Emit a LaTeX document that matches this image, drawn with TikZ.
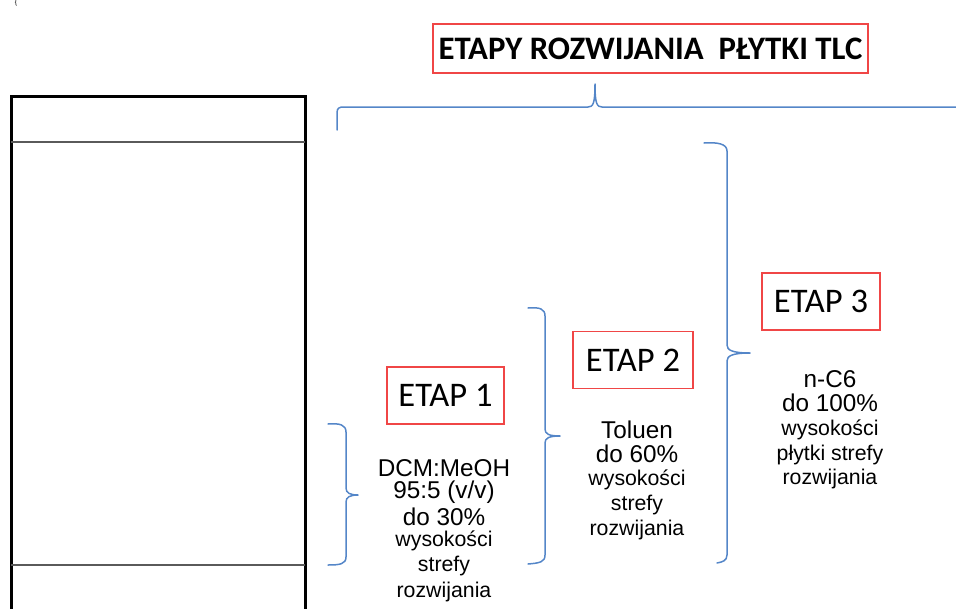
\documentclass[tikz,border=0pt]{standalone}
\usepackage{fontspec}
\setmainfont{Liberation Sans}
\newfontfamily\calibri{Carlito}
\definecolor{bracecol}{RGB}{84,134,200}
\definecolor{boxred}{RGB}{240,70,70}
\definecolor{thingray}{RGB}{90,90,90}
\tikzset{
  bracestyle/.style={draw=bracecol,line width=1.5pt,line cap=round,line join=round},
  etapbox/.style={draw=boxred,line width=1.4pt,minimum height=57pt,inner sep=0pt,font=\calibri\fontsize{34.5}{36}\selectfont},
  bigtxt/.style={font=\fontsize{24.3}{26}\selectfont,inner sep=0pt},
  smalltxt/.style={font=\fontsize{21.3}{25}\selectfont,inner sep=0pt},
}
\begin{document}
\begin{tikzpicture}[x=1pt,y=-1pt]
\useasboundingbox (0,0) rectangle (956,608);
\clip (0,0) rectangle (956,608);
% small mark top-left
\node[inner sep=0pt,font=\fontsize{7}{7}\selectfont,anchor=center] (mark) at (16,2.5) {\{};
% plate
\draw[line width=3pt] (11,650) -- (11,96) -- (305,96) -- (305,650);
\draw[thingray,line width=1.3pt] (11,142) -- (305,142);
\draw[thingray,line width=1.6pt] (11,565) -- (305,565);
% title
\node[draw=boxred,line width=1.4pt,minimum width=435pt,minimum height=49pt,inner sep=0pt,font=\calibri\bfseries\fontsize{32.8}{34}\selectfont] (title) at (650.5,48.5) {ETAPY ROZWIJANIA\ \ PŁYTKI TLC};
% big top brace
\coordinate (tbL) at (337,130);
\coordinate (tbT) at (595,84);
\draw[bracestyle] (tbL) -- (337,113) .. controls (337,108) and (339,107) .. (344,107) -- (588,107) .. controls (593,107) and (595,104) .. (tbT) .. controls (595,104) and (597,107) .. (602,107) -- (980,107);
% ETAP boxes
\node[etapbox,minimum width=117pt] (e1) at (445.5,395.5) {ETAP 1};
\node[etapbox,minimum width=120pt] (e2) at (633,360) {ETAP 2};
\node[etapbox,minimum width=118pt] (e3) at (821,301.5) {ETAP 3};
% braces
\coordinate (b1) at (358,495);
\draw[bracestyle] (328,424) .. controls (340,423) and (346,425) .. (346,432) -- (346,488) .. controls (346,493) and (350,495) .. (b1) .. controls (350,495) and (346,497) .. (346,502) -- (346,557) .. controls (346,564) and (340,565) .. (328,565);
\coordinate (b2) at (560,436);
\draw[bracestyle] (528,308) .. controls (540,307) and (545,309) .. (545,316) -- (545,429) .. controls (545,434) and (549,436) .. (b2) .. controls (549,436) and (545,438) .. (545,443) -- (545,555) .. controls (545,562) and (540,563) .. (528,564);
\coordinate (b3) at (750,353);
\draw[bracestyle] (704,143) .. controls (718,142) and (727,144) .. (727,151) -- (727,345) .. controls (727,350) and (732,353) .. (b3) .. controls (732,353) and (727,356) .. (727,361) -- (727,555) .. controls (727,561) and (722,562) .. (717,563);
% texts
\node[bigtxt] (t1a) at (444,468) {DCM:MeOH};
\node[bigtxt] (t1b) at (444,492.5) {95:5 (v/v)};
\node[bigtxt] (t1c) at (444,517) {do 30\%};
\node[smalltxt] (t1d) at (444,541) {wysokości};
\node[smalltxt] (t1e) at (444,566) {strefy};
\node[smalltxt] (t1f) at (444,592) {rozwijania};
\node[bigtxt] (t2a) at (637,430) {Toluen};
\node[bigtxt] (t2b) at (637,454) {do 60\%};
\node[smalltxt] (t2c) at (637,480) {wysokości};
\node[smalltxt] (t2d) at (637,505) {strefy};
\node[smalltxt] (t2e) at (637,530) {rozwijania};
\node[bigtxt] (t3a) at (830,379) {n-C6};
\node[bigtxt] (t3b) at (830,403) {do 100\%};
\node[smalltxt] (t3c) at (830,430) {wysokości};
\node[smalltxt] (t3d) at (830,455) {płytki strefy};
\node[smalltxt] (t3e) at (830,479) {rozwijania};
\end{tikzpicture}
\end{document}
